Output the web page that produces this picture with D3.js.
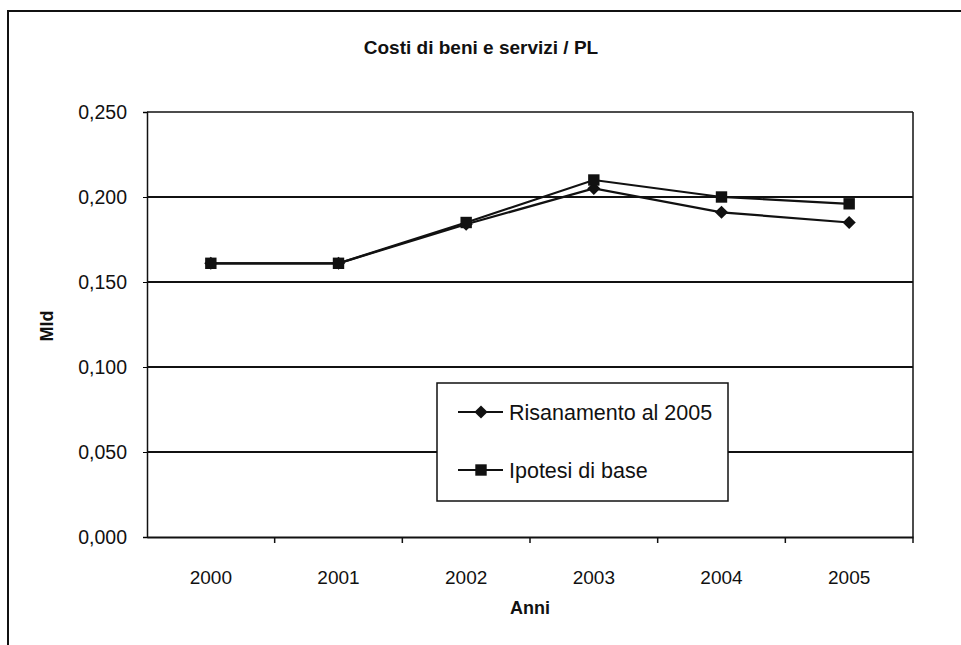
<!DOCTYPE html>
<html>
<head>
<meta charset="utf-8">
<script src="https://cdn.jsdelivr.net/npm/d3@7"></script>
<style>
  body { margin: 0; background: #fff; }
  text { font-family: "Liberation Sans", Arial, sans-serif; fill: #111; }
</style>
</head>
<body>
<script>
var years = ["2000", "2001", "2002", "2003", "2004", "2005"];
var risanamento = [0.161, 0.161, 0.184, 0.205, 0.191, 0.185];
var ipotesi = [0.161, 0.161, 0.185, 0.210, 0.200, 0.196];
var yTicks = [0, 0.05, 0.10, 0.15, 0.20, 0.25];
var seriesNames = ["Risanamento al 2005", "Ipotesi di base"];

var width = 961, height = 645;
var plotLeft = 147, plotRight = 913, plotTop = 112, plotBottom = 537;

var svg = d3.select("body").append("svg")
  .attr("width", width)
  .attr("height", height);

// outer chart frame (cut off by the page on the right and bottom)
svg.append("path")
  .attr("d", "M8,660 L8,11 L970,11")
  .attr("fill", "none")
  .attr("stroke", "#111")
  .attr("stroke-width", 2);

var x = d3.scaleBand().domain(years).range([plotLeft, plotRight]);
var y = d3.scaleLinear().domain([0, 0.25]).range([plotBottom, plotTop]);
var fmt = function(d) { return d3.format(".3f")(d).replace(".", ","); };

// gridlines
svg.append("g")
  .selectAll("line")
  .data(yTicks.slice(1))
  .enter()
  .append("line")
  .attr("x1", plotLeft)
  .attr("x2", plotRight)
  .attr("y1", function(d) { return y(d); })
  .attr("y2", function(d) { return y(d); })
  .attr("stroke", "#111")
  .attr("stroke-width", function(d) { return d === 0.25 ? 1.5 : 2.2; });

// right border of the plot area
svg.append("line")
  .attr("x1", plotRight).attr("x2", plotRight)
  .attr("y1", plotTop).attr("y2", plotBottom)
  .attr("stroke", "#111").attr("stroke-width", 1.5);

var yAxis = svg.append("g")
  .attr("transform", "translate(" + plotLeft + ",0)")
  .call(d3.axisLeft(y).tickValues(yTicks).tickFormat(fmt).tickSize(4).tickPadding(16));
yAxis.select(".domain").attr("stroke", "#111").attr("stroke-width", 1.5);
yAxis.selectAll("text").attr("font-size", 19.5).attr("fill", "#111");

var xAxis = svg.append("g")
  .attr("transform", "translate(0," + plotBottom + ")")
  .call(d3.axisBottom(x).tickSize(0).tickPadding(34));
xAxis.select(".domain").attr("stroke", "#111").attr("stroke-width", 2.2);
xAxis.selectAll("text").attr("font-size", 19).attr("fill", "#111");

// x ticks at category boundaries
svg.append("g")
  .selectAll("line")
  .data(years)
  .enter()
  .append("line")
  .attr("x1", function(d) { return x(d) + x.bandwidth(); })
  .attr("x2", function(d) { return x(d) + x.bandwidth(); })
  .attr("y1", plotBottom)
  .attr("y2", plotBottom + 6)
  .attr("stroke", "#111")
  .attr("stroke-width", 1.5);

var cx = function(d, i) { return x(years[i]) + x.bandwidth() / 2; };
var line = d3.line().x(cx).y(function(d) { return y(d); });

[ipotesi, risanamento].forEach(function(vals) {
  svg.append("path")
    .datum(vals)
    .attr("d", line)
    .attr("fill", "none")
    .attr("stroke", "#111")
    .attr("stroke-width", 2.2);
});

var diamond = d3.symbol().type(d3.symbolDiamond2).size(110);
var square = d3.symbol().type(d3.symbolSquare).size(130);

svg.append("g").selectAll("path")
  .data(risanamento).enter().append("path")
  .attr("d", diamond)
  .attr("transform", function(d, i) { return "translate(" + cx(d, i) + "," + y(d) + ")"; })
  .attr("fill", "#111");

svg.append("g").selectAll("path")
  .data(ipotesi).enter().append("path")
  .attr("d", square)
  .attr("transform", function(d, i) { return "translate(" + cx(d, i) + "," + y(d) + ")"; })
  .attr("fill", "#111");

// legend
var lg = svg.append("g");
lg.append("rect")
  .attr("x", 437).attr("y", 383)
  .attr("width", 291).attr("height", 118)
  .attr("fill", "#fff")
  .attr("stroke", "#111")
  .attr("stroke-width", 1.5);

var legendY = [412, 470];
var symbols = [diamond, square];
seriesNames.forEach(function(name, i) {
  lg.append("line")
    .attr("x1", 458).attr("x2", 503)
    .attr("y1", legendY[i]).attr("y2", legendY[i])
    .attr("stroke", "#111").attr("stroke-width", 2);
  lg.append("path")
    .attr("d", symbols[i])
    .attr("transform", "translate(481," + legendY[i] + ")")
    .attr("fill", "#111");
  lg.append("text")
    .attr("x", 509).attr("y", legendY[i])
    .attr("dy", "0.35em")
    .attr("font-size", 21.5)
    .text(name);
});

// titles
svg.append("text")
  .attr("x", 481).attr("y", 54)
  .attr("text-anchor", "middle")
  .attr("font-size", 19)
  .attr("font-weight", "bold")
  .text("Costi di beni e servizi / PL");

svg.append("text")
  .attr("x", 530).attr("y", 614)
  .attr("text-anchor", "middle")
  .attr("font-size", 18)
  .attr("font-weight", "bold")
  .text("Anni");

svg.append("text")
  .attr("transform", "translate(53,326) rotate(-90)")
  .attr("text-anchor", "middle")
  .attr("font-size", 18)
  .attr("font-weight", "bold")
  .text("Mld");
</script>
</body>
</html>
